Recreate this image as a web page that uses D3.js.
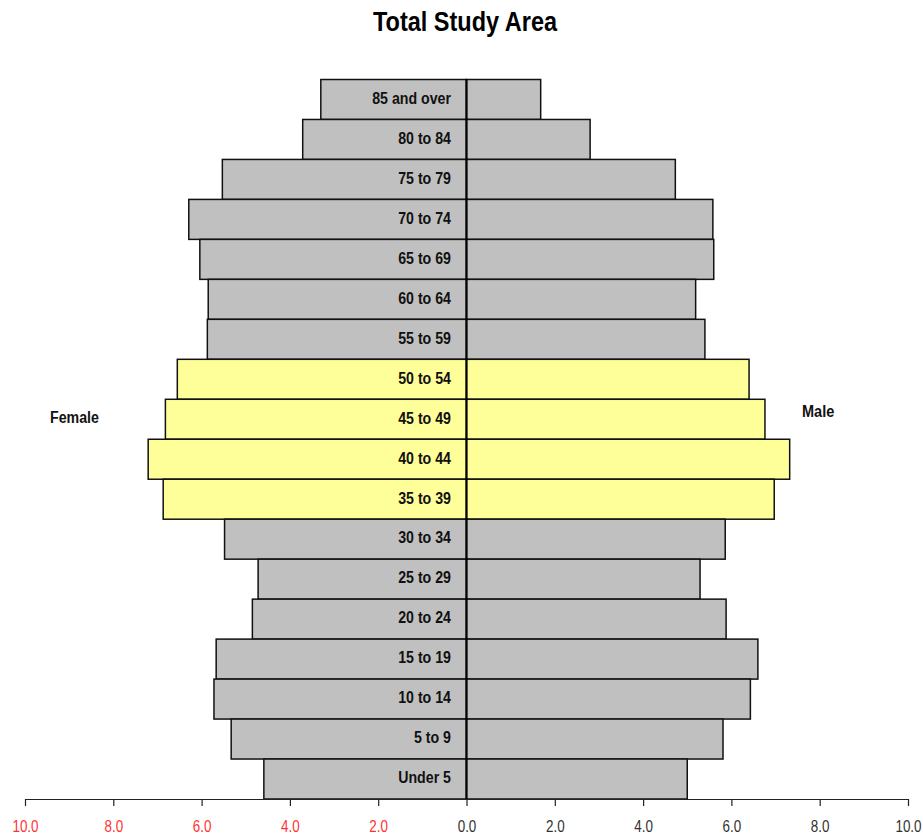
<!DOCTYPE html>
<html lang="en">
<head>
  <meta charset="UTF-8">
  <title>Total Study Area</title>
  <style>
    body { margin: 0; background: #fff; }
    text { font-family: "Liberation Sans Narrow", "Arial Narrow", "Liberation Sans", Arial, sans-serif; }
  </style>
</head>
<body>
  <script src="https://d3js.org/d3.v7.min.js"></script>
  <script>
    const width = 923;
    const height = 839;

    // age groups, top to bottom
    const ageGroups = ['85 and over', '80 to 84', '75 to 79', '70 to 74', '65 to 69', '60 to 64',
      '55 to 59', '50 to 54', '45 to 49', '40 to 44', '35 to 39', '30 to 34', '25 to 29',
      '20 to 24', '15 to 19', '10 to 14', '5 to 9', 'Under 5'];
    const female = [3.30, 3.71, 5.53, 6.29, 6.04, 5.85, 5.87, 6.55, 6.82, 7.21, 6.87, 5.48,
      4.72, 4.85, 5.67, 5.72, 5.33, 4.59];
    const male = [1.68, 2.80, 4.73, 5.58, 5.60, 5.19, 5.40, 6.40, 6.76, 7.32, 6.97, 5.86,
      5.29, 5.88, 6.60, 6.43, 5.81, 5.00];
    const highlighted = ['50 to 54', '45 to 49', '40 to 44', '35 to 39'];
    const tickValues = [-10, -8, -6, -4, -2, 0, 2, 4, 6, 8, 10];

    const ds = ageGroups.map((name, i) => ({ name, female: female[i], male: male[i] }));

    const xScale = d3.scaleLinear().domain([-10, 10]).range([25, 908]);
    const yScale = d3.scaleBand().domain(ageGroups).range([79.5, 799]).padding(0);

    const svg = d3.select('body').append('svg')
      .attr('width', width)
      .attr('height', height);

    const fillFor = d => highlighted.includes(d.name) ? '#ffff99' : '#c0c0c0';

    // condensed look: no narrow font installed, so squeeze horizontally
    const narrow = (x, y, sx) => `translate(${x},${y}) scale(${sx},1)`;

    // female bars (left)
    svg.append('g').selectAll('rect')
      .data(ds)
      .join('rect')
      .attr('x', d => xScale(-d.female))
      .attr('y', d => yScale(d.name))
      .attr('width', d => xScale(0) - xScale(-d.female))
      .attr('height', yScale.bandwidth())
      .attr('fill', fillFor)
      .attr('stroke', '#111')
      .attr('stroke-width', 1.5);

    // male bars (right)
    svg.append('g').selectAll('rect')
      .data(ds)
      .join('rect')
      .attr('x', xScale(0))
      .attr('y', d => yScale(d.name))
      .attr('width', d => xScale(d.male) - xScale(0))
      .attr('height', yScale.bandwidth())
      .attr('fill', fillFor)
      .attr('stroke', '#111')
      .attr('stroke-width', 1.5);

    // centre line
    svg.append('line')
      .attr('x1', xScale(0)).attr('x2', xScale(0))
      .attr('y1', yScale.range()[0]).attr('y2', yScale.range()[1])
      .attr('stroke', '#000')
      .attr('stroke-width', 2);

    // age labels
    svg.append('g').selectAll('text')
      .data(ds)
      .join('text')
      .attr('transform', d => narrow(xScale(0) - 15.5, yScale(d.name) + yScale.bandwidth() / 2, 0.86))
      .attr('dy', '0.26em')
      .attr('text-anchor', 'end')
      .attr('font-size', 16.5)
      .attr('font-weight', 'bold')
      .attr('fill', '#111')
      .text(d => d.name);

    // x axis
    const xAxis = d3.axisBottom(xScale)
      .tickValues(tickValues)
      .tickSize(7)
      .tickSizeOuter(0)
      .tickFormat(d => Math.abs(d).toFixed(1));

    const axisG = svg.append('g')
      .attr('transform', `translate(0, ${yScale.range()[1]})`)
      .call(xAxis);
    axisG.select('.domain').attr('stroke', '#222').attr('stroke-width', 1.2);
    axisG.selectAll('.tick line').attr('stroke', '#222').attr('stroke-width', 1.2);
    axisG.selectAll('.tick text')
      .attr('y', 22)
      .attr('transform', 'scale(0.84,1)')
      .attr('font-size', 16)
      .attr('font-family', '"Liberation Sans Narrow", "Arial Narrow", "Liberation Sans", Arial, sans-serif')
      .attr('fill', d => d < 0 ? '#ff3333' : '#333');

    // title and side labels
    svg.append('text')
      .attr('transform', narrow(465, 31, 0.84))
      .attr('text-anchor', 'middle')
      .attr('font-size', 28)
      .attr('font-weight', 'bold')
      .text('Total Study Area');

    svg.append('text')
      .attr('transform', narrow(50, 423, 0.86))
      .attr('font-size', 16.5)
      .attr('font-weight', 'bold')
      .attr('fill', '#111')
      .text('Female');

    svg.append('text')
      .attr('transform', narrow(802, 417, 0.88))
      .attr('font-size', 16.5)
      .attr('font-weight', 'bold')
      .attr('fill', '#111')
      .text('Male');
  </script>
</body>
</html>
